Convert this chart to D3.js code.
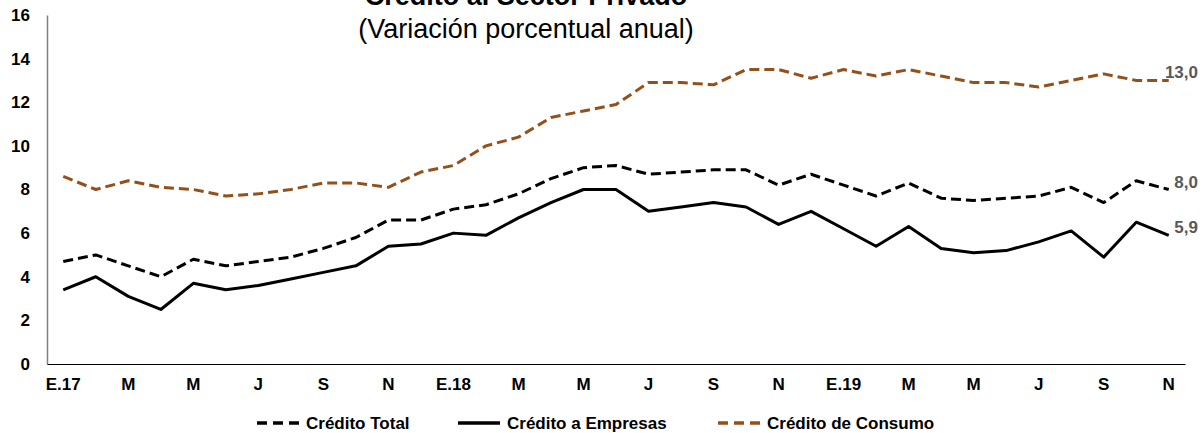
<!DOCTYPE html>
<html>
<head>
<meta charset="utf-8">
<script src="https://cdn.jsdelivr.net/npm/d3@7"></script>
<style>
  body { margin: 0; background: #ffffff; }
  svg text { font-family: "Liberation Sans", Arial, sans-serif; }
</style>
</head>
<body>
<svg id="chart" width="1202" height="433"></svg>
<script>
// monthly data, Jan 2017 - Nov 2019
var months = ["E.17","F","M","A","M","J","J","A","S","O","N","D",
              "E.18","F","M","A","M","J","J","A","S","O","N","D",
              "E.19","F","M","A","M","J","J","A","S","O","N"];
var tickLabels = ["E.17","M","M","J","S","N","E.18","M","M","J","S","N","E.19","M","M","J","S","N"];
var yTicks = [0, 2, 4, 6, 8, 10, 12, 14, 16];

var creditoTotal = [4.7,5.0,4.5,4.0,4.8,4.5,4.7,4.9,5.3,5.8,6.6,6.6,
                    7.1,7.3,7.8,8.5,9.0,9.1,8.7,8.8,8.9,8.9,8.2,8.7,
                    8.2,7.7,8.3,7.6,7.5,7.6,7.7,8.1,7.4,8.4,8.0];
var creditoEmpresas = [3.4,4.0,3.1,2.5,3.7,3.4,3.6,3.9,4.2,4.5,5.4,5.5,
                       6.0,5.9,6.7,7.4,8.0,8.0,7.0,7.2,7.4,7.2,6.4,7.0,
                       6.2,5.4,6.3,5.3,5.1,5.2,5.6,6.1,4.9,6.5,5.9];
var creditoConsumo = [8.6,8.0,8.4,8.1,8.0,7.7,7.8,8.0,8.3,8.3,8.1,8.8,
                      9.1,10.0,10.4,11.3,11.6,11.9,12.9,12.9,12.8,13.5,13.5,13.1,
                      13.5,13.2,13.5,13.2,12.9,12.9,12.7,13.0,13.3,13.0,13.0];

var seriesNames = ["Crédito Total", "Crédito a Empresas", "Crédito de Consumo"];

var brown = "#94501A";
var series = [
    {name: seriesNames[0], values: creditoTotal, color: "#000000", dash: "10,5", endLabel: "8,0"},
    {name: seriesNames[1], values: creditoEmpresas, color: "#000000", dash: null, endLabel: "5,9"},
    {name: seriesNames[2], values: creditoConsumo, color: brown, dash: "10,5", endLabel: "13,0"}
];

var svg = d3.select("#chart");
var plotLeft = 47, plotRight = 1185, plotTop = 15, plotBottom = 364;

var idx = d3.range(months.length);
var x = d3.scaleBand().domain(idx).range([plotLeft, plotRight]);
var y = d3.scaleLinear().domain([0, 16]).range([plotBottom, plotTop]);
var cx = function(i) { return x(i) + x.bandwidth() / 2; };

// title (clipped at the top like the original)
svg.append("text").attr("x", 526).attr("y", 5)
    .attr("text-anchor", "middle").style("font-weight", "bold").style("font-size", "27px")
    .text("Crédito al Sector Privado");
svg.append("text").attr("x", 526).attr("y", 38)
    .attr("text-anchor", "middle").style("font-size", "27px")
    .text("(Variación porcentual anual)");

// y axis
var yAxis = svg.append("g").attr("transform", "translate(" + plotLeft + ",0)")
    .call(d3.axisLeft(y).tickValues(yTicks).tickSize(0).tickPadding(17));
yAxis.select(".domain").attr("stroke", "#808080").attr("stroke-width", 1.5);
yAxis.selectAll("text").style("font-size", "17px").style("font-weight", "bold")
    .attr("fill", "#000");

// x axis
var xAxis = svg.append("g").attr("transform", "translate(0," + plotBottom + ")")
    .call(d3.axisBottom(x).tickValues(idx.filter(function(i) { return i % 2 === 0; }))
        .tickFormat(function(i) { return tickLabels[i / 2]; })
        .tickSize(0).tickPadding(14));
xAxis.select(".domain").attr("stroke", "#000").attr("stroke-width", 1.2);
xAxis.selectAll("text").style("font-size", "17px").style("font-weight", "bold")
    .attr("fill", "#000");

// lines
var line = d3.line().x(function(d, i) { return cx(i); }).y(function(d) { return y(d); });
svg.append("g").selectAll("path").data(series).enter().append("path")
    .attr("d", function(d) { return line(d.values); })
    .attr("fill", "none")
    .attr("stroke", function(d) { return d.color; })
    .attr("stroke-width", 3)
    .attr("stroke-dasharray", function(d) { return d.dash; })
    .attr("stroke-linejoin", "round");

// end labels
var last = months.length - 1;
svg.append("g").selectAll("text").data(series).enter().append("text")
    .attr("x", 1198)
    .attr("y", function(d) { return y(d.values[last]) - 2; })
    .attr("text-anchor", "end")
    .style("font-size", "17px").style("font-weight", "bold").attr("fill", "#595959")
    .text(function(d) { return d.endLabel; });

// legend
var legendPos = [257, 458, 718];
var legend = svg.append("g").selectAll("g").data(series).enter().append("g")
    .attr("transform", function(d, i) { return "translate(" + legendPos[i] + ",423)"; });
legend.append("line").attr("x1", 0).attr("x2", 42).attr("y1", 0).attr("y2", 0)
    .attr("stroke", function(d) { return d.color; })
    .attr("stroke-width", 3.5)
    .attr("stroke-dasharray", function(d) { return d.dash ? "10,6" : null; });
legend.append("text").attr("x", 49).attr("y", 6)
    .style("font-size", "17px").style("font-weight", "bold").attr("fill", "#000")
    .text(function(d) { return d.name; });
</script>
</body>
</html>
